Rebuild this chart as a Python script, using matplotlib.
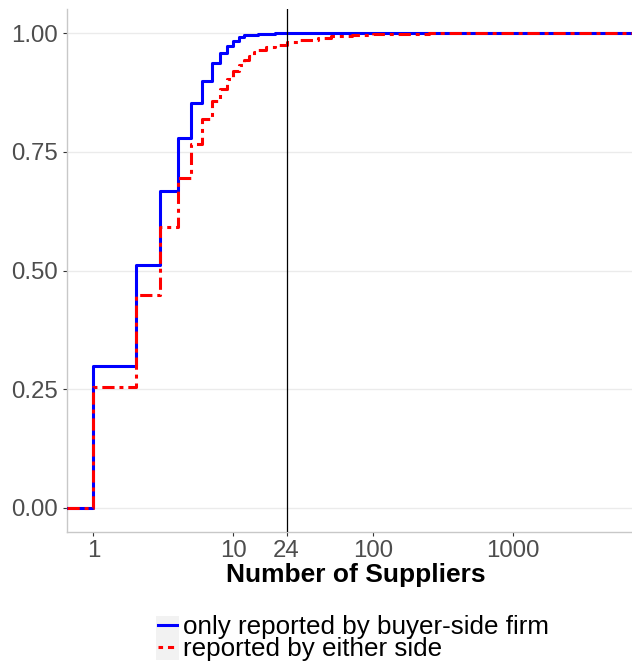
import numpy as np
import matplotlib
matplotlib.use("Agg")
import matplotlib.pyplot as plt
from matplotlib.patches import Rectangle
from matplotlib.lines import Line2D

plt.rcParams['font.family'] = ['Liberation Sans', 'DejaVu Sans']

# ECDF jump points (number of suppliers -> cumulative share)
buyer_x = [1, 2, 3, 4, 5, 6, 7, 8, 9, 10, 11, 12, 15, 20, 30]
buyer_F = [0.300, 0.512, 0.667, 0.778, 0.853, 0.900, 0.936, 0.957, 0.973,
           0.984, 0.992, 0.996, 0.998, 0.999, 1.0]

either_x = [1, 2, 3, 4, 5, 6, 7, 8, 9, 10, 11, 12, 13, 14, 15, 17, 20, 24,
            30, 40, 50, 70, 100, 150, 250, 500, 1000, 5000]
either_F = [0.254, 0.448, 0.592, 0.694, 0.766, 0.819, 0.857, 0.882, 0.903,
            0.920, 0.933, 0.944, 0.952, 0.959, 0.964, 0.970, 0.975, 0.981,
            0.986, 0.990, 0.993, 0.996, 0.997, 0.998, 0.999, 0.9995, 0.9998, 1.0]

x_ticks = [1, 10, 24, 100, 1000]
y_ticks = [0.0, 0.25, 0.5, 0.75, 1.0]
cutoff = 24

labels = ["only reported by buyer-side firm", "reported by either side"]

xmin, xmax = 10 ** -0.193, 10 ** 3.85


def padded(xs, fs):
    # like stat_ecdf(pad=TRUE): start at 0 on the left edge, hold last value to the right edge
    return [xmin] + list(xs) + [xmax], [0.0] + list(fs) + [fs[-1]]


fig = plt.figure(figsize=(6.32, 6.65), dpi=100)
ax = fig.add_axes([66.5 / 632, 133.25 / 665, 1 - 66.5 / 632, 522.5 / 665])

bx, by = padded(buyer_x, buyer_F)
rx, ry = padded(either_x, either_F)
ax.plot(bx, by, drawstyle='steps-post', color='#0000FF', lw=2.2, zorder=3)
ax.plot(rx, ry, drawstyle='steps-post', color='#FF0000', lw=2.2,
        linestyle=(0, (4, 1.6, 1.3, 1.6)), zorder=4)
ax.axvline(cutoff, color='black', lw=0.9, zorder=5)

ax.set_xscale('log')
ax.set_xlim(xmin, xmax)
ax.set_ylim(-0.05, 1.05)
ax.set_xticks(x_ticks)
ax.set_xticklabels([str(t) for t in x_ticks])
ax.xaxis.set_minor_locator(matplotlib.ticker.NullLocator())
ax.set_yticks(y_ticks)
ax.set_yticklabels(["%.2f" % t for t in y_ticks])

ax.grid(axis='y', color='#EBEBEB', lw=1.0, zorder=0)
ax.set_axisbelow(True)
for s in ['top', 'right']:
    ax.spines[s].set_visible(False)
for s in ['left', 'bottom']:
    ax.spines[s].set_color('#C8C8C8')
    ax.spines[s].set_linewidth(1.0)
ax.tick_params(axis='both', colors='#333333', labelcolor='#4D4D4D',
               labelsize=17.3, length=3, width=0.8, pad=3)

ax.set_xlabel("Number of Suppliers", fontsize=19, fontweight='bold', labelpad=1)
ax.xaxis.label.set_x(0.511)

h1 = Line2D([], [], color='#0000FF', lw=2.2)
h2 = Line2D([], [], color='#FF0000', lw=2.2, linestyle=(0.5, (2.0, 1.6)))
leg = fig.legend([h1, h2], labels,
                 loc='center left', bbox_to_anchor=(158 / 632, 1 - 638 / 665),
                 frameon=False, fontsize=18.7, handlelength=0.73,
                 handletextpad=0.22, labelspacing=-0.08, borderpad=0,
                 borderaxespad=0)

# grey key backgrounds behind the legend lines (ggplot legend.key)
fig.canvas.draw()
rend = fig.canvas.get_renderer()
inv = fig.transFigure.inverted()
for txt in leg.get_texts():
    bb = txt.get_window_extent(rend)
    yc = (bb.y0 + bb.y1) / 2
    (x0, y0), (x1, y1) = inv.transform([(bb.x0 - 27, yc - 11.5), (bb.x0 - 4, yc + 11.5)])
    fig.add_artist(Rectangle((x0, y0), x1 - x0, y1 - y0, transform=fig.transFigure,
                             facecolor='#F2F2F2', edgecolor='none', zorder=1))

fig.savefig("out.png", dpi=100)
